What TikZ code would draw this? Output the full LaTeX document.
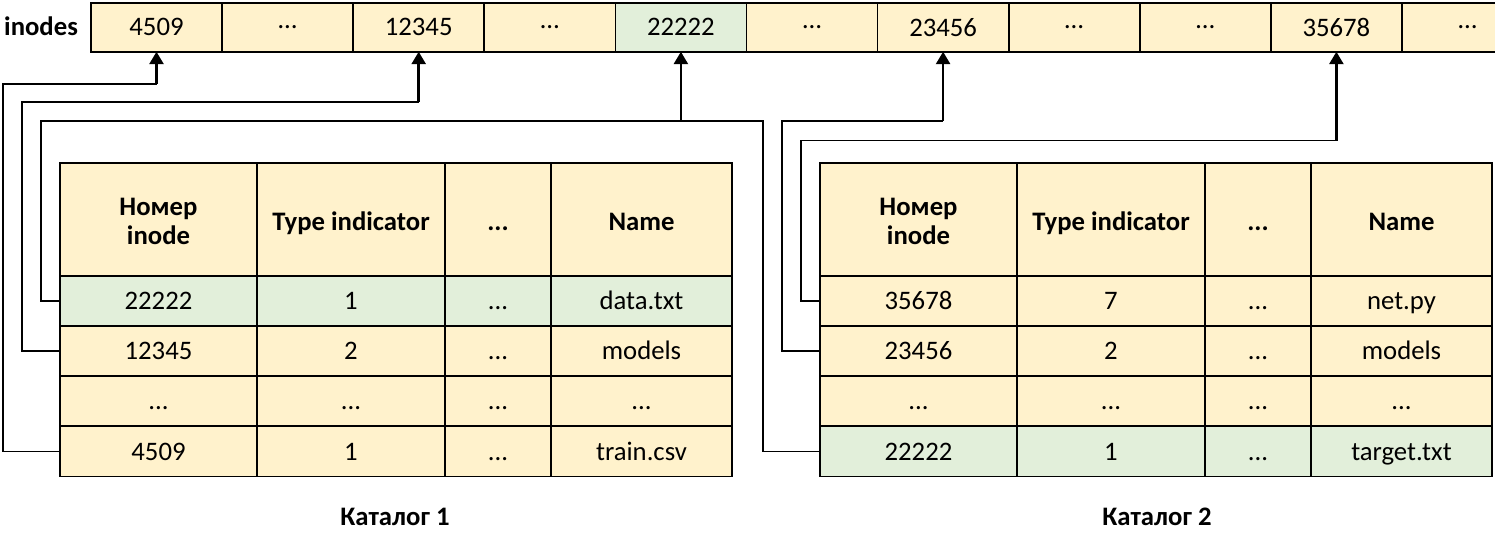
\documentclass[tikz,border=0pt]{standalone}
\usepackage{fontspec}
\setmainfont{Carlito}
\usetikzlibrary{arrows.meta}
\definecolor{cellyel}{HTML}{FFF2CC}
\definecolor{cellgrn}{HTML}{E2EFDA}
\tikzstyle{txt} = [font=\fontsize{15.2}{16.4}\selectfont]
\tikzstyle{bld} = [font=\fontsize{15.2}{16.4}\selectfont\bfseries]
\tikzstyle{cell} = [draw, line width=0.95pt, fill=cellyel, inner sep=0pt, outer sep=0pt, minimum height=1cm, align=center, txt, text height=13pt, text depth=3pt]
\tikzstyle{hcell} = [cell, bld, minimum height=2.26cm, text height=16pt, text depth=3pt]
\tikzstyle{wire} = [line width=0.75pt]
\tikzstyle{es} = [line width=1.5pt, -{Triangle[width=2.8mm,length=2.5mm]}]
\newcommand{\hdtext}[1]{\raisebox{-2.6pt}[\height][\depth]{\begin{tabular}{@{}c@{}}#1\end{tabular}}}
\newcommand{\ddd}{...}

\begin{document}
\begin{tikzpicture}[x=0.02cm,y=-0.02cm]
			\path[use as bounding box, clip] (0,0) rectangle (1495,532);
			% inode table on top
			\node[bld, anchor=west] (lbl) at (-2,26) {inodes};
			\foreach \v/\c [count=\i from 0] in {4509/cellyel,…/cellyel,12345/cellyel,…/cellyel,22222/cellgrn,…/cellyel,23456/cellyel,…/cellyel,…/cellyel,35678/cellyel,…/cellyel}
				\node[cell, fill=\c, minimum width=2.622cm, minimum height=0.98cm, text height=, text depth=] (s\i) at ({156.5+131.1*\i},27.2) {\v};
			% catalog 1
			\node[hcell, minimum width=3.94cm, text height=, text depth=] (a0-1) at (158.5,219.5) {\hdtext{Номер\\inode}};
			\node[hcell, minimum width=3.76cm] (a0-2) at (351,219.5) {Type indicator};
			\node[hcell, minimum width=2.12cm] (a0-3) at (498,219.5) {\ddd};
			\node[hcell, minimum width=3.62cm] (a0-4) at (641.5,219.5) {Name};
			\foreach \r/\y/\c/\ta/\tb/\tc/\td in {1/301/cellgrn/22222/1/\ddd/data.txt,2/351/cellyel/12345/2/\ddd/models,3/401/cellyel/\ddd/\ddd/\ddd/\ddd,4/451.5/cellyel/4509/1/\ddd/train.csv} {
				\node[cell, fill=\c, minimum width=3.94cm] (a\r-1) at (158.5,\y) {\ta};
				\node[cell, fill=\c, minimum width=3.76cm] (a\r-2) at (351,\y) {\tb};
				\node[cell, fill=\c, minimum width=2.12cm] (a\r-3) at (498,\y) {\tc};
				\node[cell, fill=\c, minimum width=3.62cm] (a\r-4) at (641.5,\y) {\td};
			}
			\node[bld] (cap1) at (395,517) {Каталог 1};
			% catalog 2
			\node[hcell, minimum width=3.94cm, text height=, text depth=] (b0-1) at (918.5,219.5) {\hdtext{Номер\\inode}};
			\node[hcell, minimum width=3.76cm] (b0-2) at (1111,219.5) {Type indicator};
			\node[hcell, minimum width=2.12cm] (b0-3) at (1258,219.5) {\ddd};
			\node[hcell, minimum width=3.62cm] (b0-4) at (1401.5,219.5) {Name};
			\foreach \r/\y/\c/\ta/\tb/\tc/\td in {1/301/cellyel/35678/7/\ddd/net.py,2/351/cellyel/23456/2/\ddd/models,3/401/cellyel/\ddd/\ddd/\ddd/\ddd,4/451.5/cellgrn/22222/1/\ddd/target.txt} {
				\node[cell, fill=\c, minimum width=3.94cm] (b\r-1) at (918.5,\y) {\ta};
				\node[cell, fill=\c, minimum width=3.76cm] (b\r-2) at (1111,\y) {\tb};
				\node[cell, fill=\c, minimum width=2.12cm] (b\r-3) at (1258,\y) {\tc};
				\node[cell, fill=\c, minimum width=3.62cm] (b\r-4) at (1401.5,\y) {\td};
			}
			\node[bld] (cap2) at (1157,517) {Каталог 2};
			% links to the inodes
			\coordinate (j1) at (3,84);
			\coordinate (j2) at (22,102);
			\coordinate (j3) at (41,121);
			\coordinate (j4) at (763,121);
			\coordinate (j5) at (782,121);
			\coordinate (j6) at (801,140.5);
			\coordinate (k1) at (s0.south |- j1);
			\coordinate (k2) at (s2.south |- j2);
			\coordinate (k3) at (s4.south |- j3);
			\coordinate (k5) at (s6.south |- j5);
			\coordinate (k6) at (s9.south |- j6);
			\draw[wire] (a4-1.west) -| (j1) -- (k1);
			\draw[wire] (a2-1.west) -| (j2) -- (k2);
			\draw[wire] (a1-1.west) -| (j3) -- (k3);
			\draw[wire] (b4-1.west) -| (j4) -- (k3);
			\draw[wire] (b2-1.west) -| (j5) -- (k5);
			\draw[wire] (b1-1.west) -| (j6) -- (k6);
			\draw[es] (k1) -- (s0);
			\draw[es] (k2) -- (s2);
			\draw[es] (k3) -- (s4);
			\draw[es] (k5) -- (s6);
			\draw[es] (k6) -- (s9);
		\end{tikzpicture}
\end{document}
